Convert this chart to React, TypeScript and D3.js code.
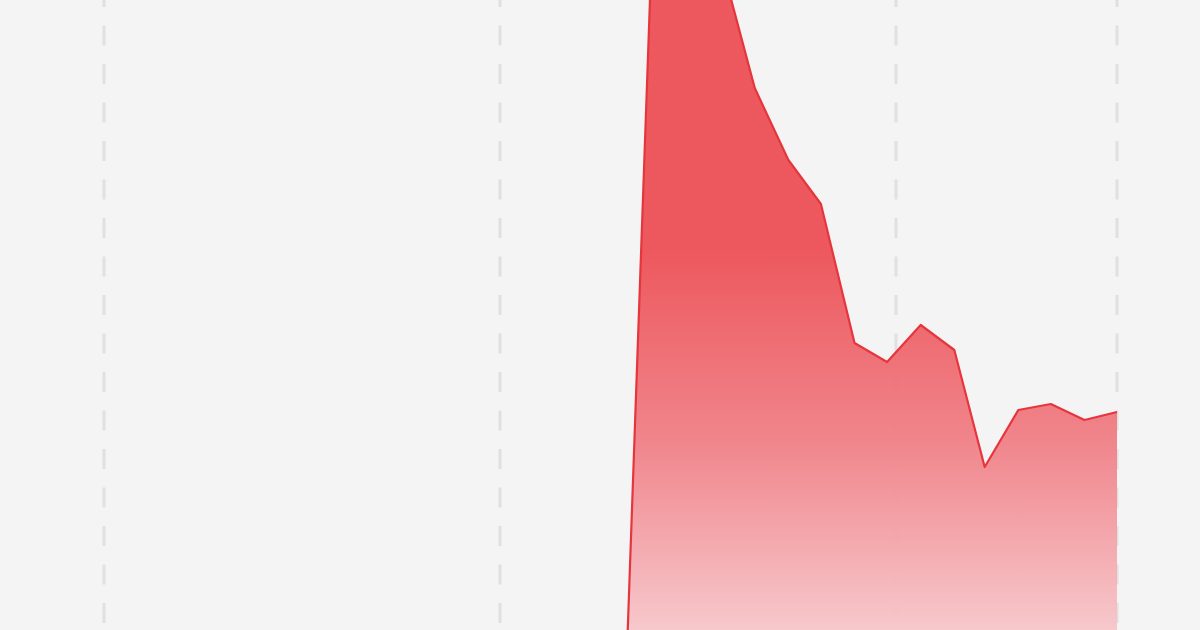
import React from "react";
import * as d3 from "d3";

const W = 1200;
const H = 630;

// monthly observations (24th of each month)
const dates: string[] = [
  "2022-04-24", "2022-05-24", "2022-06-24", "2022-07-24", "2022-08-24", "2022-09-24",
  "2022-10-24", "2022-11-24", "2022-12-24", "2023-01-24", "2023-02-24", "2023-03-24",
  "2023-04-24", "2023-05-24", "2023-06-24", "2023-07-24",
];
const values: number[] = [
  0, 92.1, 98, 81.8, 69.2, 62, 57.6, 43.7, 41.8, 45.5, 43, 31.3, 37, 37.6, 36, 36.8,
];
const domainStart = "2021-01-01";
const domainEnd = "2023-07-24";
const gridDates: string[] = ["2021-01-01", "2022-01-01", "2023-01-01", "2023-07-24"];

const parse = d3.timeParse("%Y-%m-%d");

export default function App() {
  const x = d3
    .scaleTime()
    .domain([parse(domainStart) as Date, parse(domainEnd) as Date])
    .range([104, 1117]);
  const y = d3.scaleLinear().domain([0, 100]).range([780, -220]);

  const pts = dates.map((d, i) => ({ d: parse(d) as Date, v: values[i] }));
  const area = d3
    .area<{ d: Date; v: number }>()
    .x((p) => x(p.d))
    .y0(y(0))
    .y1((p) => y(p.v));
  const line = d3
    .line<{ d: Date; v: number }>()
    .x((p) => x(p.d))
    .y((p) => y(p.v));

  return (
    <svg
      width={W}
      height={H}
      style={{ position: "fixed", left: 0, top: 0, display: "block" }}
    >
      <defs>
        <linearGradient id="fillGrad" gradientUnits="userSpaceOnUse" x1="0" x2="0" y1={250} y2={630}>
          <stop offset="0" stopColor="#ec5055" />
          <stop offset="0.5" stopColor="#f07f86" />
          <stop offset="1" stopColor="#f7c6ca" />
        </linearGradient>
      </defs>
      <rect x={0} y={0} width={W} height={H} fill="#f4f4f4" />
      <g>
        {gridDates.map((g) => {
          const gx = Math.round(x(parse(g) as Date));
          return (
            <line
              key={g}
              x1={gx}
              x2={gx}
              y1={0}
              y2={H}
              stroke="#e0e0e0"
              strokeWidth={3}
              strokeDasharray="20 18.5"
              strokeDashoffset={13}
            />
          );
        })}
      </g>
      <g>
        <path d={area(pts) || ""} fill="url(#fillGrad)" fillOpacity={0.95} />
        <path
          d={line(pts) || ""}
          fill="none"
          stroke="#e6363d"
          strokeWidth={2.2}
          strokeLinejoin="round"
        />
      </g>
    </svg>
  );
}
